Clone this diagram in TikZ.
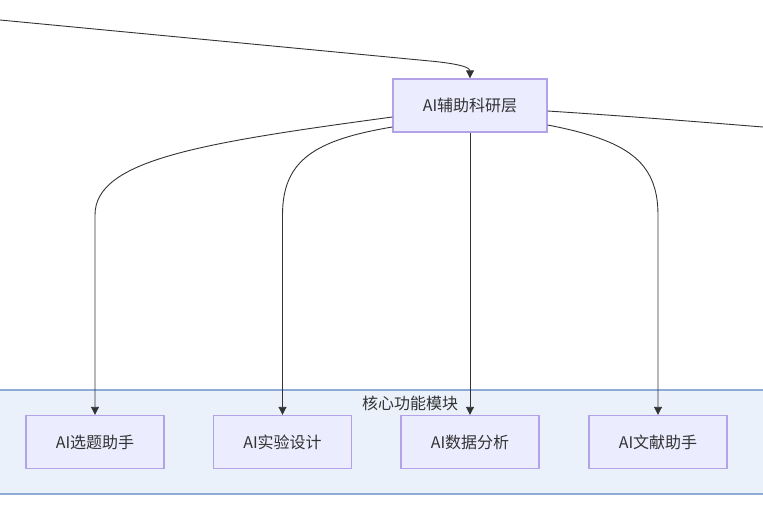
\documentclass[tikz,border=0pt]{standalone}
\usepackage{fontspec}
\setmainfont{Noto Sans CJK SC}
\usetikzlibrary{arrows.meta}
\definecolor{nodefill}{HTML}{ECECFF}
\definecolor{nodeline}{HTML}{B4A2E8}
\definecolor{clusterfill}{HTML}{EAF1FB}
\definecolor{clusterline}{HTML}{8EABD3}
\definecolor{edgecol}{HTML}{333333}
\definecolor{txt}{HTML}{333333}
\tikzset{
  box/.style={draw=nodeline, fill=nodefill, line width=1.4pt, minimum width=138pt, minimum height=53pt, inner sep=0pt, text=txt, font=\fontsize{16pt}{19pt}\selectfont},
  link/.style={draw=edgecol, line width=0.9pt, -{Triangle[length=8pt,width=8pt]}},
  plainlink/.style={draw=edgecol, line width=0.9pt},
}
\begin{document}
\begin{tikzpicture}[x=1pt,y=-1pt]
\useasboundingbox (0,0) rectangle (763,504);
% cluster
\path[fill=clusterfill] (-2,390) rectangle (765,494);
\draw[clusterline, line width=1.6pt] (-2,390) -- (765,390);
\draw[clusterline, line width=1.6pt] (-2,494) -- (765,494);
\node[text=txt, font=\fontsize{16pt}{19pt}\selectfont, anchor=center] (clabel) at (410,403) {核心功能模块};
% nodes
\node[box, minimum width=154pt] (top) at (470,105.5) {AI辅助科研层};
\node[box] (n1) at (95,442) {AI选题助手};
\node[box] (n2) at (282.5,442) {AI实验设计};
\node[box] (n3) at (470,442) {AI数据分析};
\node[box] (n4) at (658,442) {AI文献助手};
% free ends
\coordinate (inL) at (0,20);
\coordinate (outR) at (763,127);
% edges
\draw[link] (inL) -- (430,61) .. controls (462,64) and (470,68) .. (top.north);
\draw[plainlink] (top.east |- 0,111) .. controls (640,117) and (700,122) .. (outR);
\draw[link] (top.west |- 0,117) .. controls (200,143) and (95,160) .. (95,215) -- (n1.north);
\draw[link] (top.west |- 0,127) .. controls (315,140) and (282.5,160) .. (282.5,215) -- (n2.north);
\draw[link] (top.south) -- (n3.north);
\draw[link] (top.east |- 0,125) .. controls (625,140) and (658,160) .. (658,215) -- (n4.north);
\end{tikzpicture}
\end{document}
